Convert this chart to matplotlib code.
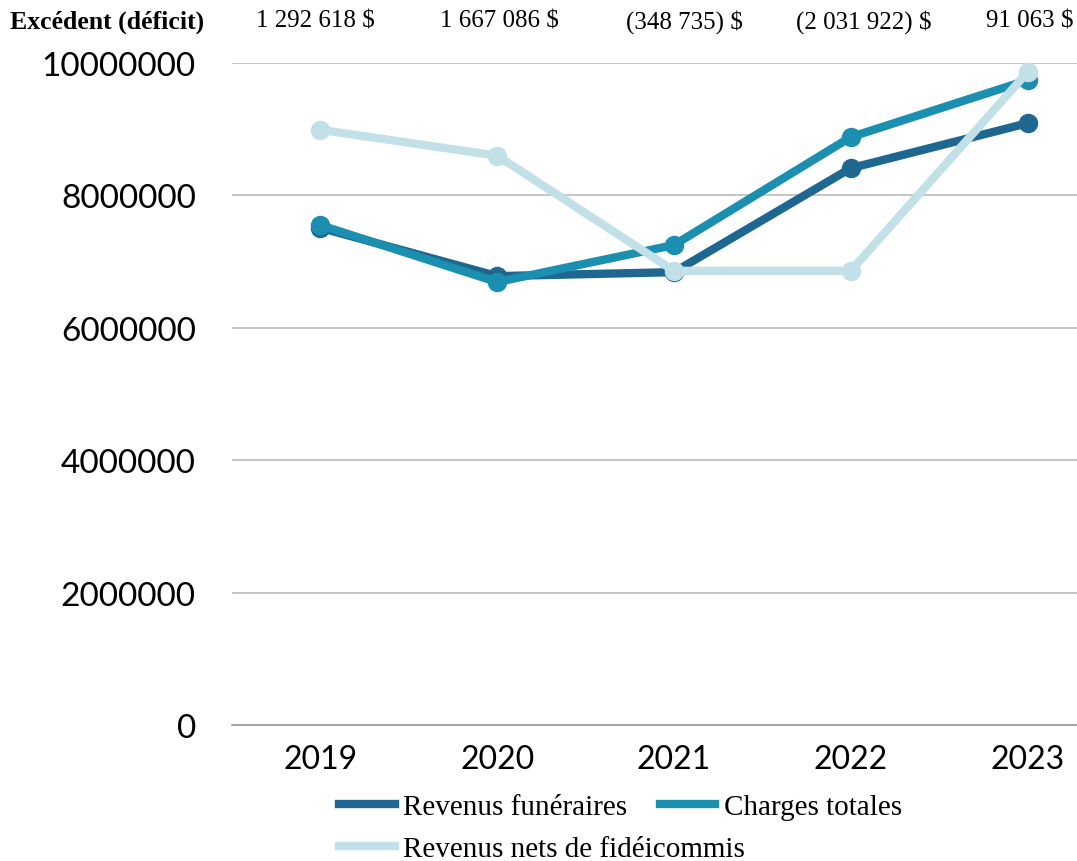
import numpy as np
import matplotlib.pyplot as plt

# Données
annees = ['2019', '2020', '2021', '2022', '2023']
revenus_funeraires = [7510000, 6780000, 6840000, 8410000, 9090000]
charges_totales = [7550000, 6690000, 7250000, 8880000, 9740000]
revenus_fideicommis = [8990000, 8600000, 6860000, 6860000, 9860000]
excedent = ['1 292 618 $', '1 667 086 $', '(348 735) $', '(2 031 922) $', '91 063 $']
yticks = [0, 2000000, 4000000, 6000000, 8000000, 10000000]

serif = 'Liberation Serif'
sans = 'Lato'

fig = plt.figure(figsize=(10.77, 8.62), dpi=100)
ax = fig.add_axes([0.2154, 0.1578, 0.7846, 0.7680])

x = np.arange(len(annees))
l1, = ax.plot(x, revenus_funeraires, color='#1d6791', lw=6, marker='o', ms=13,
              label='Revenus funéraires', clip_on=False, zorder=3)
l2, = ax.plot(x, charges_totales, color='#1a8fb0', lw=6, marker='o', ms=13,
              label='Charges totales', clip_on=False, zorder=4)
l3, = ax.plot(x, revenus_fideicommis, color='#c2e0e8', lw=6, marker='o', ms=13,
              label='Revenus nets de fidéicommis', clip_on=False, zorder=5)

ax.set_xlim(-0.5, 4.28)
ax.set_ylim(0, 10000000)
ax.set_yticks(yticks)
ax.set_yticklabels([str(v) for v in yticks], fontfamily=sans, fontsize=24)
ax.set_xticks(x)
ax.set_xticklabels(annees, fontfamily=sans, fontsize=23)
ax.tick_params(axis='both', length=0)
ax.tick_params(axis='y', pad=26)
ax.tick_params(axis='x', pad=14)
ax.grid(axis='y', color='#c0c0c0', lw=1.3)
ax.set_axisbelow(True)
for s in ['top', 'right', 'left']:
    ax.spines[s].set_visible(False)
ax.spines['bottom'].set_color('#a0a0a0')
ax.spines['bottom'].set_linewidth(1.3)

# Ligne d'excédent (déficit)
fig.text(0.009, 0.9745, 'Excédent (déficit)', fontfamily=serif, fontweight='bold',
         fontsize=18.5, va='center', ha='left')
centres = [315, 499, 684, 864, 1030]
for c, t in zip(centres, excedent):
    fig.text(c / 1077, 0.9745, t, fontfamily=serif, fontsize=18, va='center', ha='center')

# Légende sur deux rangées
opts = dict(loc='center left', frameon=False, prop={'family': serif, 'size': 21},
            handlelength=1.9, handletextpad=0.3, columnspacing=1.1)
leg1 = fig.legend([l1, l2], ['Revenus funéraires', 'Charges totales'], ncol=2,
                  bbox_to_anchor=(0.2906, 1 - 808 / 862), **opts)
leg2 = fig.legend([l3], ['Revenus nets de fidéicommis'],
                  bbox_to_anchor=(0.2906, 1 - 850 / 862), **opts)
for leg in (leg1, leg2):
    for ln in leg.get_lines():
        ln.set_marker('')
        ln.set_linewidth(6)

fig.savefig('out.png', dpi=100)
